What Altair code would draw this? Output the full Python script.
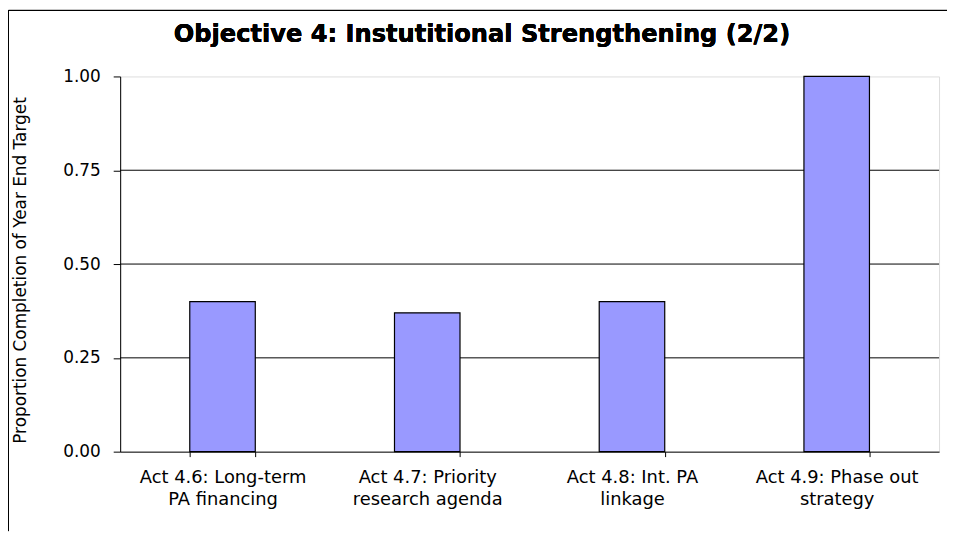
import altair as alt
import pandas as pd

categories = [
    "Act 4.6: Long-term|PA financing",
    "Act 4.7: Priority|research agenda",
    "Act 4.8: Int. PA|linkage",
    "Act 4.9: Phase out|strategy",
]
values = [0.40, 0.37, 0.40, 1.00]
y_ticks = [0.0, 0.25, 0.5, 0.75, 1.0]
grid_values = [0.25, 0.5, 0.75]

title_text = "Objective 4: Instutitional Strengthening (2/2)"
y_title = "Proportion Completion of Year End Target"

df = pd.DataFrame({"activity": categories, "value": values})
grid_df = pd.DataFrame({"value": grid_values})

FONT = "DejaVu Sans"
W, H = 825, 378

y_scale = alt.Scale(domain=[0, 1], nice=False)
y_axis = alt.Axis(
    title=y_title,
    values=y_ticks,
    format=".2f",
    labelFont=FONT,
    labelFontSize=17,
    labelColor="#000000",
    labelPadding=13,
    tickSize=7,
    tickColor="#000000",
    domainColor="#000000",
    grid=False,
    titleFont=FONT,
    titleFontSize=17,
    titleFontWeight="normal",
    titleColor="#000000",
    titleAngle=-90,
    titleX=-100,
    titleY=195,
    titleAlign="center",
    titleBaseline="middle",
)

grid = alt.Chart(grid_df).mark_rule(color="#000000", strokeWidth=1).encode(
    y=alt.Y("value:Q", scale=y_scale, axis=y_axis)
)

bars = alt.Chart(df).mark_bar(
    color="#9999FF", stroke="#000000", strokeWidth=1.2
).encode(
    x=alt.X(
        "activity:N",
        sort=None,
        scale=alt.Scale(paddingInner=0.68, paddingOuter=0.34),
        axis=alt.Axis(
            title=None,
            labelAngle=0,
            labelExpr="split(datum.label, '|')",
            labelFont=FONT,
            labelFontSize=18,
            labelColor="#000000",
            labelLineHeight=22,
            labelPadding=12,
            tickBand="extent",
            tickSize=5,
            tickColor="#000000",
            domainColor="#000000",
            grid=False,
        ),
    ),
    y=alt.Y("value:Q", scale=y_scale, axis=y_axis),
)

title = alt.Chart(df).mark_text(
    text=title_text,
    font=FONT,
    fontSize=24.3,
    fontWeight="bold",
    color="#000000",
    align="center",
    baseline="alphabetic",
).encode(x=alt.value(W / 2 - 48), y=alt.value(-35))

border_left = alt.Chart(df).mark_rule(color="#000000", strokeWidth=1).encode(
    x=alt.value(-112.5), y=alt.value(-66.5), y2=alt.value(H + 80)
)
border_top = alt.Chart(df).mark_rule(color="#000000", strokeWidth=1).encode(
    x=alt.value(-112.5), x2=alt.value(W + 8), y=alt.value(-66.5)
)

chart = alt.layer(grid, bars, title, border_left, border_top).properties(
    width=W,
    height=H,
    autosize=alt.AutoSizeParams(type="none"),
    padding={"left": 113, "top": 67, "right": 8, "bottom": 80},
).configure_view(
    stroke="#808080", strokeWidth=1
).configure(background="#ffffff")

chart.save("out.html", embed_options={"renderer": "svg", "actions": False})
